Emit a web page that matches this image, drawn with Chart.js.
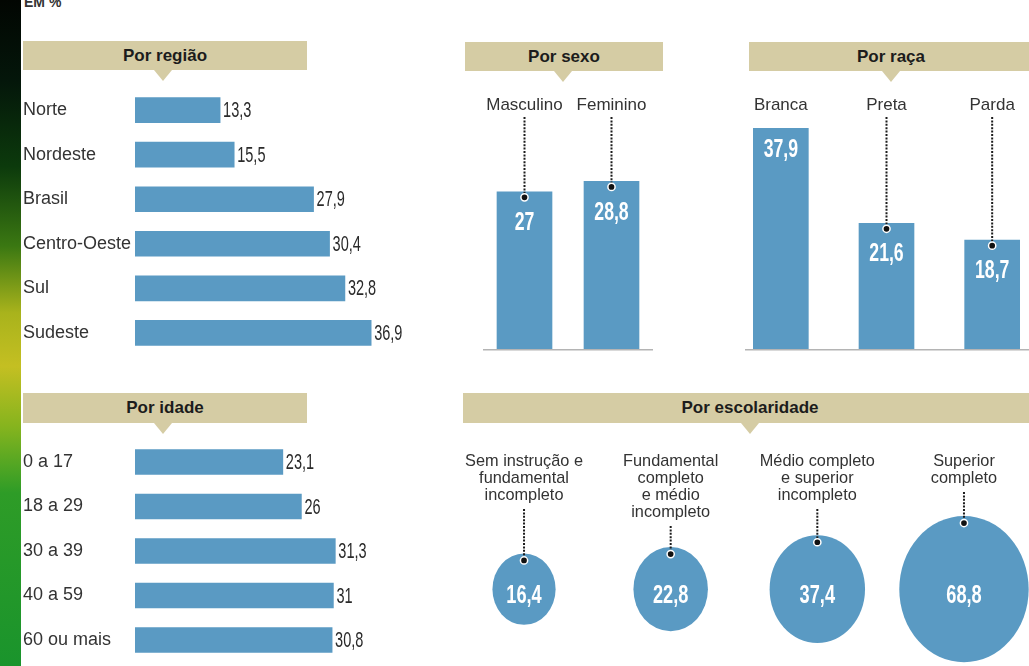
<!DOCTYPE html>
<html lang="pt-BR">
<head>
<meta charset="utf-8">
<title>Em %</title>
<script src="https://cdn.jsdelivr.net/npm/chart.js@4.4.1/dist/chart.umd.min.js"></script>
<style>
  html, body { margin: 0; padding: 0; width: 1029px; height: 666px; overflow: hidden; background: #ffffff;
    font-family: "Liberation Sans", Arial, sans-serif; }
  #strip { position: absolute; left: 0; top: 0; width: 21px; height: 666px;
    background: linear-gradient(180deg, #020602 0%, #04160a 12%, #0c3a0c 25%, #3b7812 37%, #a9b31c 47%, #c4bf22 55%, #86b41e 64%, #2e9c27 74%, #1a942c 100%); }
  #unit { position: absolute; left: 24px; top: -6px; font-weight: bold; font-size: 14px; color: #333; }
  .band { position: absolute; background: #d5cca4; color: #1c1c1c; font-weight: bold; font-size: 17px; text-align: center; }
  .tri { position: absolute; width: 0; height: 0; border-left: 9px solid transparent; border-right: 9px solid transparent; border-top: 11px solid #d5cca4; }
  canvas { position: absolute; }
</style>
</head>
<body>
<div id="strip"></div>
<div id="unit">EM %</div>

<div class="band" style="left:23px;top:41px;width:284px;height:29px;line-height:29px">Por região</div>
<div class="tri" style="left:154px;top:70px"></div>

<div class="band" style="left:465px;top:42px;width:198px;height:29px;line-height:29px">Por sexo</div>
<div class="tri" style="left:554px;top:71px"></div>

<div class="band" style="left:749px;top:42px;width:284px;height:29px;line-height:29px">Por raça</div>
<div class="tri" style="left:882px;top:71px"></div>

<div class="band" style="left:23px;top:393px;width:284px;height:30px;line-height:30px">Por idade</div>
<div class="tri" style="left:154px;top:423px"></div>

<div class="band" style="left:463px;top:393px;width:574px;height:30px;line-height:30px">Por escolaridade</div>
<div class="tri" style="left:741px;top:423px"></div>

<canvas id="regiao" width="400" height="289" style="left:23px;top:77px"></canvas>
<canvas id="idade" width="400" height="244" style="left:23px;top:429px"></canvas>
<canvas id="sexo" width="174" height="262" style="left:481px;top:90px"></canvas>
<canvas id="raca" width="317" height="262" style="left:728px;top:90px"></canvas>
<canvas id="escolaridade" width="716" height="291" style="left:386px;top:440px"></canvas>

<script>
// Data
const regioes = ['Norte', 'Nordeste', 'Brasil', 'Centro-Oeste', 'Sul', 'Sudeste'];
const regiaoValores = [13.3, 15.5, 27.9, 30.4, 32.8, 36.9];

const idades = ['0 a 17', '18 a 29', '30 a 39', '40 a 59', '60 ou mais'];
const idadeValores = [23.1, 26, 31.3, 31, 30.8];

const sexos = ['Masculino', 'Feminino'];
const sexoValores = [27, 28.8];

const racas = ['Branca', 'Preta', 'Parda'];
const racaValores = [37.9, 21.6, 18.7];

const escolaridades = [
  ['Sem instrução e', 'fundamental', 'incompleto'],
  ['Fundamental', 'completo', 'e médio', 'incompleto'],
  ['Médio completo', 'e superior', 'incompleto'],
  ['Superior', 'completo']
];
const escolaridadeValores = [16.4, 22.8, 37.4, 68.8];

// Styling
const FONT = '"Liberation Sans", Arial, sans-serif';
const BLUE = '#5a9ac3';
const TEXT = '#333333';
const BUBBLE_K = 7.8;      // bubble radius per sqrt(percent), so area follows the value
const SQUASH = 1.13;       // vertical stretch of the bubbles

const fmt = v => String(v).replace('.', ',');

function drawNarrow(ctx, text, x, y, o) {
  ctx.save();
  ctx.font = (o.weight || 'normal') + ' ' + o.size + 'px ' + FONT;
  ctx.fillStyle = o.color;
  ctx.textAlign = o.align || 'center';
  ctx.textBaseline = 'middle';
  ctx.translate(x, y);
  ctx.scale(o.sx || 1, o.sy || 1);
  ctx.fillText(text, 0, 0);
  ctx.restore();
}

function drawLeader(ctx, x, y0, y1) {
  ctx.save();
  ctx.strokeStyle = '#1c1c1c';
  ctx.lineWidth = 2;
  ctx.setLineDash([2, 1.4]);
  ctx.beginPath();
  ctx.moveTo(x, y0);
  ctx.lineTo(x, y1);
  ctx.stroke();
  ctx.setLineDash([]);
  ctx.beginPath();
  ctx.arc(x, y1, 3.6, 0, Math.PI * 2);
  ctx.fillStyle = '#111';
  ctx.fill();
  ctx.lineWidth = 1.5;
  ctx.strokeStyle = '#ffffff';
  ctx.stroke();
  ctx.restore();
}

// Value printed just past the end of each horizontal bar
const hValues = {
  id: 'hValues',
  afterDatasetsDraw(chart) {
    const ds = chart.data.datasets[0];
    chart.getDatasetMeta(0).data.forEach((el, i) => {
      drawNarrow(chart.ctx, fmt(ds.data[i]), el.x + 3, el.y + 1,
        { size: 22, color: '#2a2a2a', sx: 0.66, align: 'left' });
    });
  }
};

// Baseline, category names, leaders and values of the column charts
const vLabels = {
  id: 'vLabels',
  beforeDatasetsDraw(chart, args, o) {
    const { ctx, chartArea: a } = chart;
    ctx.save();
    ctx.strokeStyle = '#b4b4b4';
    ctx.lineWidth = 1.5;
    ctx.beginPath();
    ctx.moveTo(a.left + o.baseLeft, a.bottom + 0.75);
    ctx.lineTo(a.right - o.baseRight, a.bottom + 0.75);
    ctx.stroke();
    ctx.restore();
  },
  afterDatasetsDraw(chart, args, o) {
    const ctx = chart.ctx;
    const ds = chart.data.datasets[0];
    chart.getDatasetMeta(0).data.forEach((el, i) => {
      drawNarrow(ctx, chart.data.labels[i], el.x, o.labelY, { size: 17, color: TEXT });
      const leader = el.y - o.labelY > 40;
      if (leader) drawLeader(ctx, el.x, o.labelY + 12, el.y + 5.5);
      drawNarrow(ctx, fmt(ds.data[i]), el.x, el.y + (leader ? 31 : 21),
        { size: 26, weight: 'bold', color: '#ffffff', sx: 0.68 });
    });
  }
};

// Stretched bubbles with their captions, leaders and values
const bubbleLabels = {
  id: 'bubbleLabels',
  beforeDatasetsDraw(chart) {
    const ctx = chart.ctx;
    const cy = chart.scales.y.getPixelForValue(0);
    ctx.save();
    ctx.translate(0, cy);
    ctx.scale(1, SQUASH);
    ctx.translate(0, -cy);
  },
  afterDatasetsDraw(chart, args, o) {
    const ctx = chart.ctx;
    ctx.restore();
    const ds = chart.data.datasets[0];
    chart.getDatasetMeta(0).data.forEach((el, i) => {
      const lines = chart.data.labels[i];
      lines.forEach((t, k) => drawNarrow(ctx, t, el.x, o.firstLineY + k * o.lineHeight,
        { size: 17, color: TEXT, sx: 0.96 }));
      const top = el.y - el.options.radius * SQUASH;
      drawLeader(ctx, el.x, o.firstLineY + (lines.length - 1) * o.lineHeight + 14, top + 7);
      drawNarrow(ctx, fmt(ds.data[i].v), el.x, el.y + 7,
        { size: 26, weight: 'bold', color: '#ffffff', sx: 0.7 });
    });
  }
};

const common = {
  responsive: false,
  animation: false,
  devicePixelRatio: 1,
  events: [],
  plugins: { legend: { display: false }, tooltip: { enabled: false } }
};

function hbar(id, labels, values) {
  new Chart(document.getElementById(id), {
    type: 'bar',
    data: { labels, datasets: [{ data: values, backgroundColor: BLUE, borderWidth: 0, barThickness: 25 }] },
    options: Object.assign({}, common, {
      indexAxis: 'y',
      layout: { padding: 0 },
      scales: {
        x: { display: false, min: 0, max: 45 },
        y: {
          grid: { display: false },
          border: { display: false },
          ticks: { color: TEXT, font: { family: FONT, size: 18 }, crossAlign: 'far', padding: 0 },
          afterFit(scale) { scale.width = 112; }
        }
      }
    }),
    plugins: [hValues]
  });
}

function vbar(id, labels, values, baseLeft, baseRight) {
  new Chart(document.getElementById(id), {
    type: 'bar',
    data: { labels, datasets: [{ data: values, backgroundColor: BLUE, borderWidth: 0, barThickness: 55 }] },
    options: Object.assign({}, common, {
      layout: { padding: { top: 0, bottom: 3, left: 0, right: 0 } },
      scales: {
        x: { display: false },
        y: { display: false, min: 0, max: 44.5 }
      },
      plugins: Object.assign({}, common.plugins, {
        vLabels: { labelY: 15, baseLeft, baseRight }
      })
    }),
    plugins: [vLabels]
  });
}

hbar('regiao', regioes, regiaoValores);
hbar('idade', idades, idadeValores);
vbar('sexo', sexos, sexoValores, 2, 2);
vbar('raca', racas, racaValores, 17, 0);

// The bubble chart keeps a margin of one largest radius round its plot area;
// the canvas is sized so that the plot area spans one column per level.
new Chart(document.getElementById('escolaridade'), {
  type: 'bubble',
  data: {
    labels: escolaridades,
    datasets: [{
      data: escolaridadeValores.map((v, i) => ({ x: i, y: 0, r: BUBBLE_K * Math.sqrt(v), v })),
      backgroundColor: BLUE,
      borderWidth: 0,
      clip: false
    }]
  },
  options: Object.assign({}, common, {
    layout: { padding: { top: 72, bottom: 0, left: 0, right: 0 } },
    scales: {
      x: { display: false, min: -0.5, max: 3.5 },
      y: { display: false, min: -1, max: 1 }
    },
    plugins: Object.assign({}, common.plugins, {
      bubbleLabels: { firstLineY: 21, lineHeight: 17 }
    })
  }),
  plugins: [bubbleLabels]
});
</script>
</body>
</html>
